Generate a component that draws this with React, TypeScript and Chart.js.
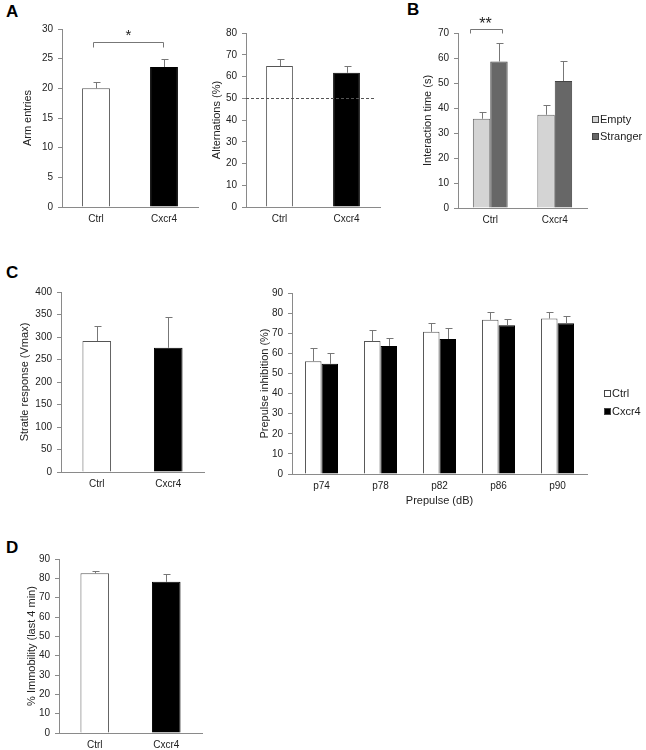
import React, { useEffect, useRef } from 'react';
import { Chart, registerables } from 'chart.js';

Chart.register(...registerables);

const FONT = "'Liberation Sans', Arial, Helvetica, sans-serif";

// ---------- data ----------
const groups = ['Ctrl', 'Cxcr4'];

const armEntries = [20.0, 23.6];
const armEntriesErr = [1.1, 1.3];

const alternations = [64.8, 61.7];
const alternationsErr = [3.1, 3.0];
const chanceLevel = 50;

const interactionEmpty = [35.7, 37.3];
const interactionEmptyErr = [2.6, 3.9];
const interactionStranger = [58.6, 50.8];
const interactionStrangerErr = [7.3, 8.2];

const startle = [291, 276];
const startleErr = [34, 69];

const prepulseLevels = ['p74', 'p78', 'p82', 'p86', 'p90'];
const ppiCtrl = [56.1, 66.1, 70.7, 76.7, 77.3];
const ppiCtrlErr = [6.8, 5.3, 4.6, 3.9, 3.5];
const ppiCxcr4 = [54.8, 63.7, 67.1, 74.0, 75.0];
const ppiCxcr4Err = [5.6, 3.7, 5.3, 3.0, 3.6];

const immobility = [82.6, 78.2];
const immobilityErr = [1.3, 3.8];

// ---------- plugin for error bars, brackets, reference line, legend ----------
const extrasPlugin = {
  id: 'extras',
  afterDatasetsDraw(chart: any, _args: any, opts: any) {
    const ctx = chart.ctx;
    const y = chart.scales.y;
    const area = chart.chartArea;
    const ox = opts.originX || 0;
    const oy = opts.originY || 0;
    ctx.save();

    if (opts.refLine != null) {
      const py = Math.round(y.getPixelForValue(opts.refLine)) + 0.5;
      ctx.strokeStyle = '#555';
      ctx.lineWidth = 1;
      ctx.setLineDash([3, 2]);
      ctx.beginPath();
      ctx.moveTo(area.left, py);
      ctx.lineTo(area.right - (opts.refLineInset || 0), py);
      ctx.stroke();
      ctx.setLineDash([]);
    }

    chart.data.datasets.forEach((ds: any, di: number) => {
      const errs = ds.errors;
      if (!errs) return;
      const meta = chart.getDatasetMeta(di);
      meta.data.forEach((bar: any, i: number) => {
        const top = Math.round(y.getPixelForValue(ds.data[i] + errs[i])) + 0.5;
        const x = Math.round(bar.x) + 0.5;
        ctx.strokeStyle = '#777';
        ctx.lineWidth = 1;
        ctx.beginPath();
        ctx.moveTo(x, bar.y);
        ctx.lineTo(x, top);
        ctx.moveTo(x - 3, top);
        ctx.lineTo(x + 4, top);
        ctx.stroke();
      });
    });

    if (opts.bracket) {
      const b = opts.bracket;
      const a0 = chart.getDatasetMeta(b.ds0).data[b.i0];
      const a1 = chart.getDatasetMeta(b.ds1).data[b.i1];
      const x0 = Math.round(a0.x + b.dx0) + 0.5;
      const x1 = Math.round(a1.x + b.dx1) + 0.5;
      const py = Math.round(y.getPixelForValue(b.value)) + 0.5;
      ctx.strokeStyle = '#777';
      ctx.lineWidth = 1;
      ctx.beginPath();
      ctx.moveTo(x0, py + b.drop);
      ctx.lineTo(x0, py);
      ctx.lineTo(x1, py);
      ctx.lineTo(x1, py + b.drop);
      ctx.stroke();
      ctx.fillStyle = '#222';
      ctx.font = `${b.fontSize}px ${FONT}`;
      ctx.textAlign = 'center';
      ctx.textBaseline = 'middle';
      ctx.fillText(b.text, (x0 + x1) / 2 + (b.textDx || 0), py - b.textGap);
    }

    if (opts.legend) {
      const l = opts.legend;
      ctx.font = `${l.fontSize}px ${FONT}`;
      ctx.textAlign = 'left';
      ctx.textBaseline = 'middle';
      chart.data.datasets.forEach((ds: any, di: number) => {
        const lx = l.x - ox;
        const cy = Math.round(l.y - oy + di * l.gap);
        ctx.fillStyle = ds.backgroundColor;
        ctx.fillRect(lx, cy - 3, 6, 6);
        ctx.strokeStyle = '#444';
        ctx.lineWidth = 1;
        ctx.strokeRect(lx + 0.5, cy - 2.5, 6, 6);
        ctx.fillStyle = '#222';
        ctx.fillText(ds.label, lx + 8, cy + 0.5);
      });
    }
    ctx.restore();
  },
};

type Box = { left: number; top: number; width: number; height: number };
type Area = { left: number; right: number; top: number; bottom: number };

interface PanelSpec {
  box: Box;
  area: Area;
  labels: string[];
  datasets: any[];
  yMax: number;
  yStep: number;
  yTitle: string;
  xTitle?: string;
  barPercentage: number;
  categoryPercentage: number;
  extras?: any;
}

function ChartPanel({ spec }: { spec: PanelSpec }) {
  const ref = useRef<HTMLCanvasElement>(null);
  useEffect(() => {
    const { box, area } = spec;
    const axisColor = '#8a8a8a';
    const chart = new Chart(ref.current as HTMLCanvasElement, {
      type: 'bar',
      data: {
        labels: spec.labels,
        datasets: spec.datasets.map((d) => ({
          ...d,
          borderWidth: 1,
          barPercentage: spec.barPercentage,
          categoryPercentage: spec.categoryPercentage,
        })),
      },
      options: {
        animation: false,
        responsive: false,
        maintainAspectRatio: false,
        devicePixelRatio: 1,
        events: [],
        layout: {
          padding: {
            left: 0,
            top: area.top - box.top,
            right: box.left + box.width - area.right,
            bottom: 0,
          },
        },
        plugins: {
          legend: { display: false },
          tooltip: { enabled: false },
          extras: { ...(spec.extras || {}), originX: box.left, originY: box.top },
        } as any,
        scales: {
          x: {
            grid: { display: false, drawTicks: false, tickLength: 0 },
            border: { display: true, color: axisColor, width: 1 },
            ticks: { color: '#222', padding: 6, font: { family: FONT, size: 10 } },
            title: spec.xTitle
              ? { display: true, text: spec.xTitle, color: '#222', font: { family: FONT, size: 11 }, padding: { top: 0, bottom: 4 } }
              : { display: false },
            afterFit: (s: any) => {
              s.height = box.top + box.height - area.bottom;
            },
          },
          y: {
            min: 0,
            max: spec.yMax,
            grid: { drawOnChartArea: false, drawTicks: true, tickLength: 4, color: axisColor },
            border: { display: true, color: axisColor, width: 1 },
            ticks: { stepSize: spec.yStep, color: '#222', padding: 5, font: { family: FONT, size: 10 } },
            title: { display: true, text: spec.yTitle, color: '#222', font: { family: FONT, size: 11 }, padding: { top: 4, bottom: 0 } },
            afterFit: (s: any) => {
              s.width = area.left - box.left;
            },
          },
        },
      } as any,
      plugins: [extrasPlugin as any],
    });
    return () => chart.destroy();
  }, []);
  const { box } = spec;
  return (
    <canvas
      ref={ref}
      width={box.width}
      height={box.height}
      style={{ position: 'absolute', left: box.left, top: box.top, width: box.width, height: box.height }}
    />
  );
}

const WHITE = '#ffffff';
const BLACK = '#000000';
const EDGE = '#555555';

const panels: PanelSpec[] = [
  {
    box: { left: 17, top: 0, width: 183, height: 227 },
    area: { left: 62, right: 198, top: 29, bottom: 207 },
    labels: groups,
    datasets: [
      { label: 'Arm entries', data: armEntries, errors: armEntriesErr, backgroundColor: [WHITE, BLACK], borderColor: [EDGE, BLACK] },
    ],
    yMax: 30,
    yStep: 5,
    yTitle: 'Arm entries',
    barPercentage: 0.41,
    categoryPercentage: 1,
    extras: { bracket: { ds0: 0, i0: 0, ds1: 0, i1: 1, dx0: -3, dx1: -1, value: 27.8, drop: 5, text: '*', fontSize: 15, textGap: 7 } },
  },
  {
    box: { left: 206, top: 0, width: 180, height: 227 },
    area: { left: 246, right: 380, top: 33, bottom: 207 },
    labels: groups,
    datasets: [
      { label: 'Alternations', data: alternations, errors: alternationsErr, backgroundColor: [WHITE, BLACK], borderColor: [EDGE, BLACK] },
    ],
    yMax: 80,
    yStep: 10,
    yTitle: 'Alternations (%)',
    barPercentage: 0.4,
    categoryPercentage: 1,
    extras: { refLine: chanceLevel, refLineInset: 6 },
  },
  {
    box: { left: 417, top: 0, width: 229, height: 228 },
    area: { left: 458, right: 587, top: 33, bottom: 208 },
    labels: groups,
    datasets: [
      { label: 'Empty', data: interactionEmpty, errors: interactionEmptyErr, backgroundColor: '#d4d4d4', borderColor: '#666' },
      { label: 'Stranger', data: interactionStranger, errors: interactionStrangerErr, backgroundColor: '#676767', borderColor: '#444' },
    ],
    yMax: 70,
    yStep: 10,
    yTitle: 'Interaction time (s)',
    barPercentage: 1,
    categoryPercentage: 0.54,
    extras: {
      bracket: { ds0: 0, i0: 0, ds1: 1, i1: 0, dx0: -12, dx1: 3, value: 71.6, drop: 4, text: '**', fontSize: 16, textGap: 5, textDx: -1 },
      legend: { x: 592, y: 119, gap: 17, fontSize: 11 },
    },
  },
  {
    box: { left: 14, top: 270, width: 192, height: 222 },
    area: { left: 61, right: 204, top: 292, bottom: 472 },
    labels: groups,
    datasets: [
      { label: 'Startle', data: startle, errors: startleErr, backgroundColor: [WHITE, BLACK], borderColor: [EDGE, BLACK] },
    ],
    yMax: 400,
    yStep: 50,
    yTitle: 'Stratle response (Vmax)',
    barPercentage: 0.4,
    categoryPercentage: 1,
  },
  {
    box: { left: 254, top: 270, width: 392, height: 242 },
    area: { left: 292, right: 587, top: 293, bottom: 474 },
    labels: prepulseLevels,
    datasets: [
      { label: 'Ctrl', data: ppiCtrl, errors: ppiCtrlErr, backgroundColor: WHITE, borderColor: EDGE },
      { label: 'Cxcr4', data: ppiCxcr4, errors: ppiCxcr4Err, backgroundColor: BLACK, borderColor: BLACK },
    ],
    yMax: 90,
    yStep: 10,
    yTitle: 'Prepulse inhibition (%)',
    xTitle: 'Prepulse (dB)',
    barPercentage: 1,
    categoryPercentage: 0.56,
    extras: { legend: { x: 604, y: 393, gap: 18, fontSize: 11 } },
  },
  {
    box: { left: 21, top: 540, width: 183, height: 210 },
    area: { left: 59, right: 202, top: 559, bottom: 733 },
    labels: groups,
    datasets: [
      { label: 'Immobility', data: immobility, errors: immobilityErr, backgroundColor: [WHITE, BLACK], borderColor: [EDGE, BLACK] },
    ],
    yMax: 90,
    yStep: 10,
    yTitle: '% Immobility (last 4 min)',
    barPercentage: 0.4,
    categoryPercentage: 1,
  },
];

const letters = [
  { text: 'A', left: 6, top: 4 },
  { text: 'B', left: 407, top: 2 },
  { text: 'C', left: 6, top: 265 },
  { text: 'D', left: 6, top: 540 },
];

export default function App() {
  return (
    <div
      style={{
        position: 'absolute',
        left: 0,
        top: 0,
        width: 646,
        height: 750,
        overflow: 'hidden',
        background: '#fff',
        fontFamily: FONT,
      }}
    >
      {letters.map((l) => (
        <div
          key={l.text}
          style={{
            position: 'absolute',
            left: l.left,
            top: l.top,
            fontSize: 17,
            lineHeight: '16px',
            fontWeight: 'bold',
            color: '#000',
          }}
        >
          {l.text}
        </div>
      ))}
      {panels.map((p, i) => (
        <ChartPanel key={i} spec={p} />
      ))}
    </div>
  );
}
